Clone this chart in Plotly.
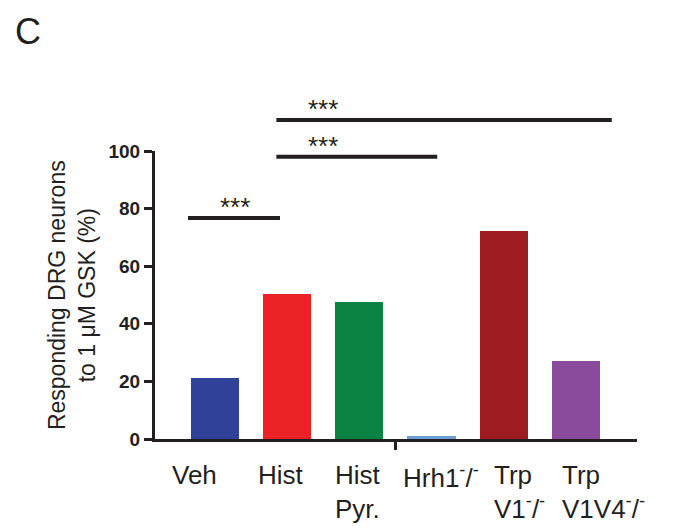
import plotly.graph_objects as go

# ---- data ----
categories = ["Veh", "Hist", "Hist<br>Pyr.", "Hrh1<sup>-</sup>/<sup>-</sup>",
              "Trp<br>V1<sup>-</sup>/<sup>-</sup>", "Trp<br>V1V4<sup>-</sup>/<sup>-</sup>"]
values = [21.2, 50.3, 47.6, 1.0, 72.2, 27.0]
colors = ["#2f4199", "#ec2228", "#0a8343", "#6a9fd8", "#9e1b21", "#8b4b9d"]
y_ticks = [0, 20, 40, 60, 80, 100]

# significance comparisons: line extent (in category units), line height, label
sig_x0 = [-0.375, 0.85, 0.85]
sig_x1 = [0.90, 3.08, 5.50]
sig_y = [76.7, 98.0, 110.8]
sig_label = ["***", "***", "***"]
sig_label_x = [0.28, 1.49, 1.49]

# layout tweaks (pixel offsets for category labels)
label_xshift = [-45, -31, -26, -30, -12, -16]

ink = "#231f20"
font_family = "Liberation Sans, Arial, sans-serif"

x_idx = list(range(len(categories)))
fig = go.Figure()

fig.add_trace(go.Bar(
    x=x_idx, y=values, width=0.667, marker=dict(color=colors, line=dict(width=0)),
    xaxis="x", yaxis="y2", showlegend=False, hoverinfo="skip"))

for x0, x1, y in zip(sig_x0, sig_x1, sig_y):
    fig.add_trace(go.Scatter(x=[x0, x1], y=[y, y], mode="lines",
                             line=dict(color=ink, width=4),
                             xaxis="x", yaxis="y", showlegend=False, hoverinfo="skip"))

annotations = []
for lx, y, t in zip(sig_label_x, sig_y, sig_label):
    annotations.append(dict(x=lx, y=y, xref="x", yref="y", text=t, showarrow=False,
                            yanchor="bottom", yshift=-6,
                            font=dict(size=26, color=ink, family=font_family)))

for i, (c, s) in enumerate(zip(categories, label_xshift)):
    annotations.append(dict(x=i, y=-0.035, xref="x", yref="paper", text=c, showarrow=False,
                            xanchor="left", yanchor="top", align="left", xshift=s, yshift=-7,
                            font=dict(size=26, color=ink, family=font_family)))

annotations.append(dict(x=-0.172, y=50, xref="paper", yref="y", textangle=-90,
                        text="Responding DRG neurons<br>to 1 \u03bcM GSK (%)", showarrow=False,
                        xanchor="center", yanchor="middle",
                        font=dict(size=23, color=ink, family=font_family)))

annotations.append(dict(x=-0.29, y=1.0, xref="paper", yref="paper", text="C", showarrow=False,
                        xanchor="left", yanchor="middle", yshift=64, xshift=-2,
                        font=dict(size=36, color=ink, family=font_family)))

# page body adds an 8px offset; compensate so the figure fills the 679x531 window
W, H = 671, 523
m_l, m_r, m_t, m_b = 147, 42, 87, 92
plot_h = H - m_t - m_b
main_frac = 288 / plot_h
top_val = 100 / main_frac

fig.update_layout(
    width=W, height=H,
    margin=dict(l=m_l, r=m_r, t=m_t, b=m_b),
    paper_bgcolor="white", plot_bgcolor="rgba(0,0,0,0)",
    bargap=0,
    xaxis=dict(range=[-0.833, 5.85], showline=True, linecolor=ink, linewidth=3,
               tickvals=[2.5], ticktext=[""], ticks="outside", ticklen=8, tickwidth=2.5,
               tickcolor=ink, showgrid=False, zeroline=False, anchor="y2", fixedrange=True),
    yaxis=dict(range=[0, top_val], domain=[0, 1], visible=False, fixedrange=True),
    yaxis2=dict(range=[0, 100], domain=[0, main_frac], anchor="x", showline=True,
                linecolor=ink, linewidth=3, tickvals=y_ticks, ticks="outside", ticklen=8,
                tickwidth=3, tickcolor=ink, showgrid=False, zeroline=False,
                tickfont=dict(size=19, color=ink, family="Liberation Sans, Arial", weight="bold"),
                fixedrange=True),
    annotations=annotations,
)

fig.write_html("out.html")
